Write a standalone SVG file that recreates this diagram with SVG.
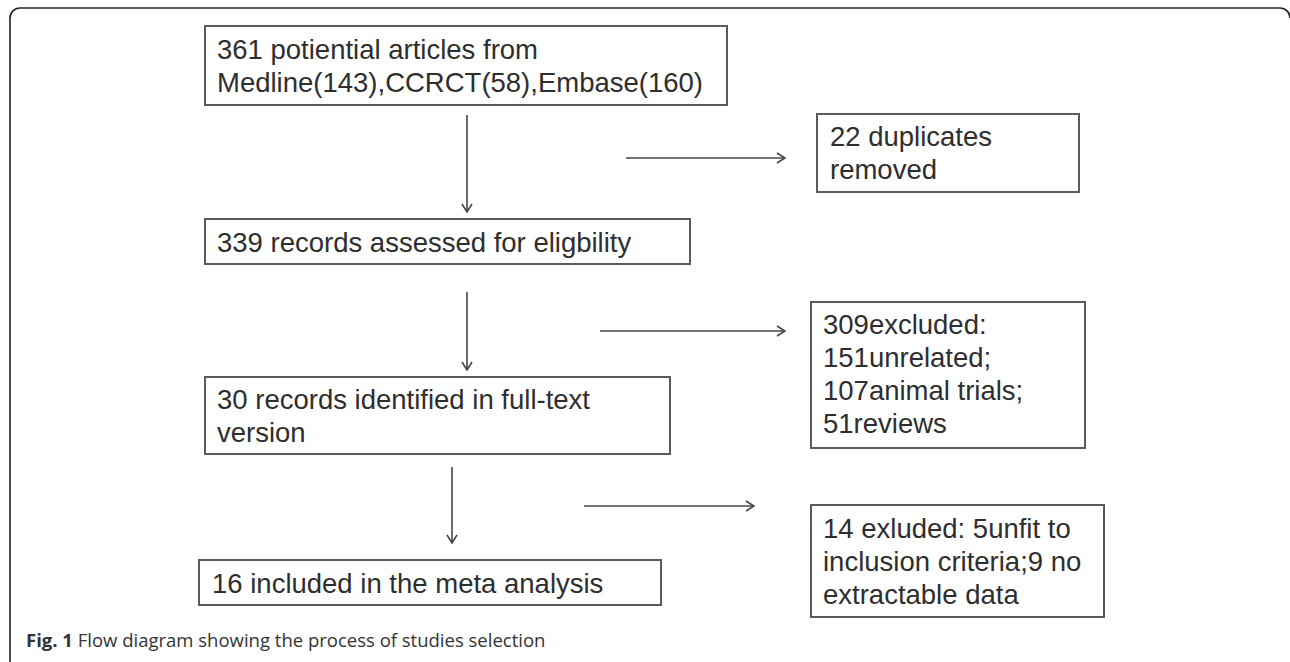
<svg xmlns="http://www.w3.org/2000/svg" width="1290" height="662" viewBox="0 0 1290 662">
<style>
.box{fill:#fff;stroke:#5a5a5a;stroke-width:2}
.t{font-family:"Liberation Sans",Arial,sans-serif;font-size:27.5px;fill:#2e2e2e}
.c{stroke:#444;stroke-width:1.6;fill:none}
.cap{font-family:"Open Sans","Noto Sans",sans-serif;font-size:18.5px;fill:#333}
</style>
<defs>
<marker id="ah" viewBox="0 0 12 12" refX="11" refY="6" markerWidth="12" markerHeight="12" markerUnits="userSpaceOnUse" orient="auto">
<path d="M3,1 L11,6 L3,11" fill="none" stroke="#444" stroke-width="1.6"/>
</marker>
</defs>
<rect width="1290" height="662" fill="#fff"/>
<path d="M10,662 V18 A10,10 0 0 1 20,8 H1280 A10,10 0 0 1 1290,18" fill="none" stroke="#222" stroke-width="1.6"/>
<g id="n1"><rect class="box" x="205" y="26" width="522" height="79"/><text class="t" x="217" y="59">361 potiential articles from</text><text class="t" x="217" y="92">Medline(143),CCRCT(58),Embase(160)</text></g>
<g id="n2"><rect class="box" x="817" y="114" width="262" height="78"/><text class="t" x="830" y="146">22 duplicates</text><text class="t" x="830" y="179">removed</text></g>
<g id="n3"><rect class="box" x="205" y="219" width="485" height="45"/><text class="t" x="217" y="252">339 records assessed for eligbility</text></g>
<g id="n4"><rect class="box" x="811" y="302" width="274" height="146"/><text class="t" x="823" y="334">309excluded:</text><text class="t" x="823" y="367">151unrelated;</text><text class="t" x="823" y="400">107animal trials;</text><text class="t" x="823" y="433">51reviews</text></g>
<g id="n5"><rect class="box" x="205" y="377" width="465" height="77"/><text class="t" x="217" y="409">30 records identified in full-text</text><text class="t" x="217" y="442">version</text></g>
<g id="n6"><rect class="box" x="199" y="560" width="462" height="45"/><text class="t" x="212" y="593">16 included in the meta analysis</text></g>
<g id="n7"><rect class="box" x="811" y="505" width="293" height="112"/><text class="t" x="823" y="538">14 exluded: 5unfit to</text><text class="t" x="823" y="571">inclusion criteria;9 no</text><text class="t" x="823" y="604">extractable data</text></g>
<g id="connectors">
<line class="c" x1="467" y1="115" x2="467" y2="212" marker-end="url(#ah)"/>
<line class="c" x1="626" y1="158" x2="785" y2="158" marker-end="url(#ah)"/>
<line class="c" x1="467" y1="292" x2="467" y2="370" marker-end="url(#ah)"/>
<line class="c" x1="600" y1="331" x2="785" y2="331" marker-end="url(#ah)"/>
<line class="c" x1="452" y1="467" x2="452" y2="543" marker-end="url(#ah)"/>
<line class="c" x1="584" y1="506" x2="754" y2="506" marker-end="url(#ah)"/>
</g>
<text class="cap" x="26" y="647"><tspan font-weight="bold">Fig. 1</tspan> Flow diagram showing the process of studies selection</text>
</svg>
